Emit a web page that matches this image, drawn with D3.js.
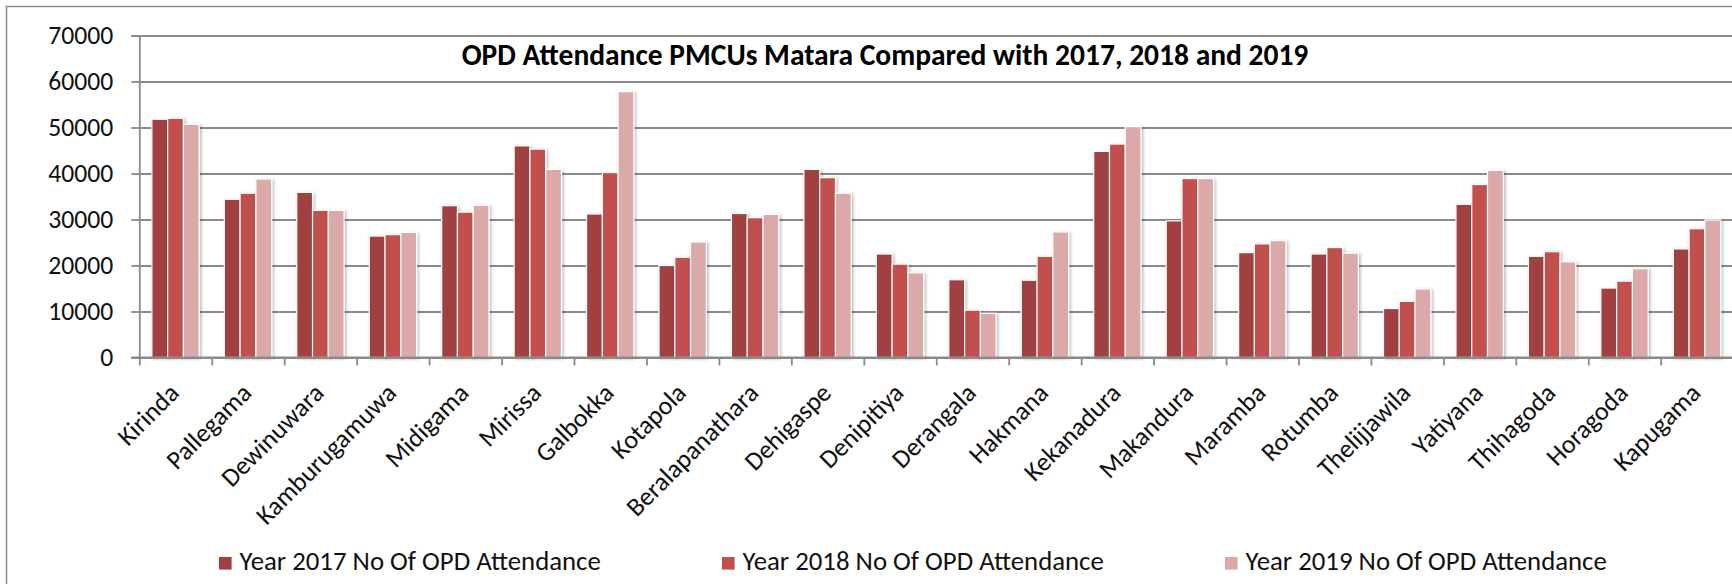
<!DOCTYPE html>
<html>
<head>
<meta charset="utf-8">
<script src="https://cdn.jsdelivr.net/npm/d3@7"></script>
<style>
  html, body { margin: 0; padding: 0; background: #fff; }
  svg { display: block; }
</style>
</head>
<body>
<div id="chart"></div>
<script>
// ---------------- DATA ----------------
const categories = ["Kirinda","Pallegama","Dewinuwara","Kamburugamuwa","Midigama","Mirissa","Galbokka","Kotapola","Beralapanathara","Dehigaspe","Denipitiya","Derangala","Hakmana","Kekanadura","Makandura","Maramba","Rotumba","Thelijjawila","Yatiyana","Thihagoda","Horagoda","Kapugama"];
const year2017 = [51800,34400,35900,26400,33000,46000,31200,20000,31300,40900,22500,16900,16800,44800,29700,22800,22500,10650,33300,22000,15100,23600];
const year2018 = [52000,35700,32000,26700,31600,45300,40200,21800,30400,39100,20300,10300,22000,46400,38900,24700,23900,12200,37600,23000,16600,28000];
const year2019 = [50700,38800,32000,27200,33100,40900,57800,25100,31100,35700,18400,9600,27300,50200,38900,25400,22700,14900,40700,20800,19300,29900];
const seriesNames = ["Year 2017 No Of OPD Attendance","Year 2018 No Of OPD Attendance","Year 2019 No Of OPD Attendance"];
const yTickValues = [0,10000,20000,30000,40000,50000,60000,70000];
const titleText = "OPD Attendance PMCUs Matara Compared with 2017, 2018 and 2019";

// ---------------- LAYOUT / STYLE ----------------
const W = 1732, H = 584;
const colors = ["#A1403F", "#C0504D", "#DCA9A9"];
const gridColor = "#8a8a8a";
const FONT = "Carlito, Calibri, Lato, 'Open Sans', sans-serif";
const plotLeft = 139.3, plotTop = 35.5, plotBottom = 357.5;
const step = 72.45;
const plotRight = plotLeft + step * categories.length;

const series = [year2017, year2018, year2019];
const rows = categories.map((c, i) => ({ cat: c, values: series.map((s, k) => ({ key: k, value: s[i] })) }));

const svg = d3.select("#chart").append("svg")
  .attr("width", W).attr("height", H)
  .attr("viewBox", `0 0 ${W} ${H}`);

// measurement helper for font fitting
const meas = svg.append("text").attr("font-family", FONT).attr("visibility", "hidden");
function fitSize(str, target, weight) {
  meas.attr("font-size", 100).attr("font-weight", weight || "normal").text(str);
  const w = meas.node().getComputedTextLength();
  return 100 * target / w;
}
const tickFS = fitSize("70000", 65);
const legendFS = fitSize(seriesNames[2], 361.5);
const xLabFS = fitSize("Kamburugamuwa", 186);
const titleFS = fitSize(titleText, 847, "bold");
meas.remove();

const defs = svg.append("defs");
const f = defs.append("filter").attr("id", "shadow")
  .attr("x", "-30%").attr("y", "-5%").attr("width", "170%").attr("height", "115%");
f.append("feDropShadow").attr("dx", 1.5).attr("dy", 1).attr("stdDeviation", 1.6)
  .attr("flood-color", "#000").attr("flood-opacity", 0.28);

// outer chart border
svg.append("rect").attr("x", 6.5).attr("y", 6.5).attr("width", W + 50).attr("height", H + 50)
  .attr("fill", "#fff").attr("stroke", "#8c8c8c").attr("stroke-width", 1.5);

// scales
const y = d3.scaleLinear().domain([0, 70000]).range([plotBottom, plotTop]);
const x0 = d3.scaleBand().domain(categories).range([plotLeft, plotRight])
  .paddingInner(0.347).paddingOuter(0.347 / 2);
const x1 = d3.scaleBand().domain([0, 1, 2]).range([0, x0.bandwidth()]).padding(0);
const xb = d3.scaleLinear().domain([0, categories.length]).range([plotLeft, plotRight]);

// gridlines
svg.append("g").attr("class", "grid")
  .attr("transform", `translate(${plotLeft},0)`)
  .call(d3.axisLeft(y).tickValues(yTickValues).tickSize(-(plotRight - plotLeft + 20)).tickFormat(""))
  .call(g => g.select(".domain").remove())
  .call(g => g.selectAll("line").attr("stroke", gridColor).attr("stroke-width", 1.8));

// y axis with labels
svg.append("g").attr("class", "yaxis")
  .attr("transform", `translate(${plotLeft},0)`)
  .call(d3.axisLeft(y).tickValues(yTickValues).tickSize(8).tickPadding(18).tickFormat(d3.format("d")))
  .call(g => g.select(".domain").attr("stroke", gridColor).attr("stroke-width", 1.8))
  .call(g => g.selectAll("line").attr("stroke", gridColor).attr("stroke-width", 1.8))
  .call(g => g.selectAll("text").attr("font-family", FONT).attr("font-size", tickFS).attr("fill", "#111"));

// title
svg.append("text").attr("x", 885).attr("y", 65)
  .attr("text-anchor", "middle").attr("font-family", FONT).attr("font-weight", "bold")
  .attr("font-size", titleFS).attr("fill", "#000").text(titleText);

// bars
const groups = svg.append("g").selectAll("g").data(rows).join("g")
  .attr("transform", d => `translate(${x0(d.cat)},0)`);
groups.selectAll("rect").data(d => d.values).join("rect")
  .attr("x", d => x1(d.key))
  .attr("y", d => y(d.value))
  .attr("width", x1.bandwidth())
  .attr("height", d => y(0) - y(d.value))
  .attr("fill", d => colors[d.key])
  .attr("stroke", "#fff").attr("stroke-width", 1.2)
  .attr("filter", "url(#shadow)");

// x axis (category boundaries)
svg.append("g").attr("class", "xaxis")
  .attr("transform", `translate(0,${plotBottom})`)
  .call(d3.axisBottom(xb).tickValues(d3.range(categories.length + 1)).tickSize(8).tickFormat(""))
  .call(g => g.select(".domain").attr("stroke", gridColor).attr("stroke-width", 1.8)
     .attr("d", `M${plotLeft - 8},0H${plotRight}`))
  .call(g => g.selectAll("line").attr("stroke", gridColor).attr("stroke-width", 1.8));

// x labels
svg.append("g").selectAll("text").data(categories).join("text")
  .attr("transform", d => `translate(${x0(d) + x0.bandwidth() / 2 + 5},${plotBottom + 37}) rotate(-45)`)
  .attr("text-anchor", "end")
  .attr("font-family", FONT).attr("font-size", xLabFS).attr("fill", "#111")
  .text(d => d);

// legend
const legendX = [219, 722, 1225];
const lg = svg.append("g").selectAll("g").data(seriesNames).join("g")
  .attr("transform", (d, i) => `translate(${legendX[i]},557)`);
lg.append("rect").attr("width", 12.6).attr("height", 12.6).attr("fill", (d, i) => colors[i]);
lg.append("text").attr("x", 20.5).attr("y", 13)
  .attr("font-family", FONT).attr("font-size", legendFS).attr("fill", "#111")
  .text(d => d);
</script>
</body>
</html>
